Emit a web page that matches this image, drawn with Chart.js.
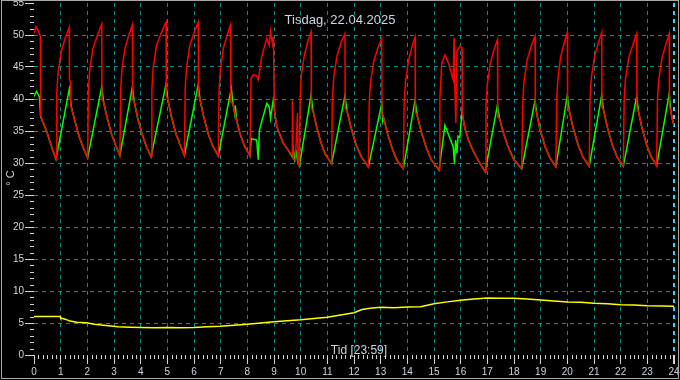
<!DOCTYPE html>
<html>
<head>
<meta charset="utf-8">
<script src="https://cdn.jsdelivr.net/npm/chart.js@4"></script>
<style>
  html, body { margin: 0; padding: 0; background: #000; }
  #wrap { position: relative; width: 680px; height: 380px; overflow: hidden; }
  #frame { position: absolute; left: 1px; top: 0; width: 676px; height: 377px; border: 1px solid #a8a8a8; pointer-events: none; }
  .lbl { position: absolute; font-family: "Liberation Sans", Arial, sans-serif; color: #ccd6e4; white-space: nowrap; }
  #title { left: 240px; top: 12px; width: 200px; text-align: center; font-size: 13px; line-height: 15px; }
  #xname { left: 259px; top: 343px; width: 200px; text-align: center; font-size: 12px; line-height: 14px; }
  #yname { left: 10px; top: 178px; font-size: 11px; line-height: 12px; transform: translate(-50%, -50%) rotate(-90deg); }
</style>
</head>
<body>
<div id="wrap">
  <canvas id="chart" width="680" height="380"></canvas>
  <div id="title" class="lbl">Tisdag, 22.04.2025</div>
  <div id="xname" class="lbl">Tid [23:59]</div>
  <div id="yname" class="lbl">° C</div>
  <div id="frame"></div>
</div>
<script>
// hours of the day
var redTime = [
  0, 0.07, 0.15, 0.24, 0.25, 0.35, 0.48, 0.6, 0.72,
  0.825, 0.855, 0.905, 1.025, 1.175, 1.325, 1.33, 1.37, 1.38, 1.525, 1.695, 1.855,
  2.01, 2.04, 2.09, 2.21, 2.37, 2.54, 2.55, 2.61, 2.74, 2.91, 3.07,
  3.22, 3.25, 3.30, 3.41, 3.55, 3.69, 3.70, 3.76, 3.89, 4.06, 4.22,
  4.39, 4.42, 4.47, 4.59, 4.77, 4.95, 4.96, 5.02, 5.15, 5.32, 5.48,
  5.64, 5.67, 5.72, 5.84, 6.00, 6.16, 6.17, 6.23, 6.36, 6.53, 6.70,
  6.91, 6.94, 6.99, 7.10, 7.24, 7.37, 7.38, 7.46, 7.60, 7.74, 7.90,
  8.10, 8.14, 8.22, 8.35, 8.41, 8.54, 8.73, 8.82, 8.87, 8.94, 8.98, 9.01, 9.10, 9.35, 9.55, 9.68, 9.69, 9.72, 9.80, 9.88, 9.90,
  9.95, 9.98, 10.02, 10.14, 10.27, 10.39, 10.40, 10.46, 10.59, 10.76, 10.92,
  11.16, 11.19, 11.24, 11.36, 11.51, 11.66, 11.67, 11.74, 11.89, 12.08, 12.27,
  12.54, 12.57, 12.62, 12.74, 12.89, 13.04, 13.05, 13.11, 13.25, 13.43, 13.60,
  13.85, 13.88, 13.93, 14.04, 14.17, 14.29, 14.30, 14.37, 14.52, 14.72, 14.91,
  15.19, 15.22, 15.29, 15.41, 15.56, 15.72, 15.75, 15.77, 15.82, 15.86, 15.98, 16.05, 16.06, 16.15, 16.29, 16.48, 16.66,
  16.92, 16.95, 17.00, 17.11, 17.25, 17.38, 17.39, 17.46, 17.61, 17.81, 18.00,
  18.29, 18.33, 18.37, 18.49, 18.66, 18.79, 18.80, 18.85, 18.98, 19.17, 19.35,
  19.57, 19.60, 19.65, 19.75, 19.88, 20.00, 20.01, 20.07, 20.21, 20.40, 20.58,
  20.82, 20.85, 20.90, 21.02, 21.16, 21.29, 21.30, 21.36, 21.50, 21.68, 21.86,
  22.10, 22.13, 22.18, 22.30, 22.46, 22.60, 22.61, 22.67, 22.80, 22.97, 23.13,
  23.35, 23.38, 23.43, 23.55, 23.69, 23.82, 23.83, 23.89, 24.00
];
var redTemp = [
  50.3, 51.3, 50.8, 49.8, 37.4, 36.2, 34.9, 33.3, 31.8,
  30.6, 40.9, 44.2, 47.5, 49.6, 51.2, 43.0, 42.6, 38.9, 36.7, 34.1, 32.3,
  30.8, 41.2, 44.6, 47.9, 49.9, 51.7, 40.0, 39.5, 37.1, 34.5, 32.7,
  31.2, 41.4, 44.7, 47.9, 49.9, 51.6, 40.0, 39.5, 37.0, 34.4, 32.5,
  31.0, 41.5, 44.9, 48.3, 50.3, 52.0, 40.5, 39.9, 37.3, 34.6, 32.8,
  31.2, 41.6, 44.9, 48.3, 50.3, 52.0, 40.5, 39.8, 37.3, 34.6, 32.7,
  31.1, 41.3, 44.6, 47.9, 49.9, 51.6, 39.5, 39.3, 36.6, 34.4, 32.6,
  31.1, 43.2, 43.8, 43.6, 43.0, 46.6, 49.5, 48.4, 50.6, 48.6, 49.7, 38.5, 35.7, 33.1, 31.9, 31.2, 39.8, 30.6, 30.4, 37.8, 29.8,
  29.5, 40.0, 43.6, 46.9, 49.0, 50.5, 38.5, 38.2, 35.8, 33.2, 31.4,
  29.9, 40.0, 43.4, 46.7, 48.8, 50.2, 38.5, 38.1, 35.5, 32.8, 31.0,
  29.4, 39.4, 42.7, 45.9, 47.9, 49.5, 37.5, 37.1, 34.7, 32.3, 30.5,
  29.1, 39.4, 42.6, 45.9, 48.1, 49.7, 38.0, 37.4, 34.9, 32.3, 30.4,
  28.9, 40.0, 45.6, 46.9, 45.4, 43.0, 49.5, 43.5, 36.2, 47.5, 48.3, 48.0, 37.8, 35.6, 33.6, 31.8, 30.4,
  28.6, 39.0, 42.3, 45.6, 47.7, 49.3, 37.2, 36.9, 34.6, 32.2, 30.5,
  29.1, 39.4, 42.5, 46.1, 48.4, 49.8, 38.3, 37.8, 35.2, 32.5, 30.8,
  29.4, 39.9, 43.3, 46.6, 48.7, 50.4, 38.8, 38.2, 35.6, 32.9, 31.0,
  29.5, 40.0, 43.3, 46.6, 48.7, 50.4, 38.8, 38.2, 35.6, 32.9, 31.0,
  29.5, 39.9, 43.1, 46.4, 48.5, 50.2, 38.6, 38.0, 35.5, 32.9, 31.1,
  29.6, 39.9, 43.1, 46.4, 48.5, 50.2, 39.0, 37.8, 35.8
];

var greenTime = [
  0, 0.1, 0.2, 0.25, 0.35, 0.48, 0.6, 0.72,
  0.825, 1.325, 1.40, 1.525, 1.695, 1.855,
  2.01, 2.54, 2.61, 2.74, 2.91, 3.07,
  3.22, 3.69, 3.76, 3.89, 4.06, 4.22,
  4.39, 4.95, 5.02, 5.15, 5.32, 5.48,
  5.64, 6.16, 6.23, 6.36, 6.53, 6.70,
  6.91, 7.40, 7.46, 7.53, 7.55, 7.60, 7.74, 7.90,
  8.10, 8.14, 8.35, 8.41, 8.45, 8.54, 8.73, 8.82, 8.87, 8.97, 9.01, 9.10, 9.35, 9.55, 9.68, 9.72, 9.78, 9.84, 9.90,
  9.95, 10.39, 10.46, 10.59, 10.76, 10.92,
  11.16, 11.66, 11.74, 11.89, 12.08, 12.27,
  12.54, 13.04, 13.08, 13.11, 13.25, 13.43, 13.60,
  13.85, 14.29, 14.37, 14.52, 14.72, 14.91,
  15.19, 15.41, 15.72, 15.77, 15.81, 15.86, 15.90, 15.97, 16.05, 16.15, 16.29, 16.48, 16.66,
  16.92, 17.38, 17.46, 17.61, 17.81, 18.00,
  18.29, 18.79, 18.85, 18.98, 19.17, 19.35,
  19.57, 20.00, 20.07, 20.21, 20.40, 20.58,
  20.82, 21.29, 21.36, 21.50, 21.68, 21.86,
  22.10, 22.60, 22.67, 22.80, 22.97, 23.13,
  23.35, 23.82, 23.89, 24.00
];
var greenTemp = [
  40.4, 41.2, 40.4, 37.2, 36.2, 34.9, 33.3, 31.8,
  30.6, 41.6, 38.8, 36.7, 34.1, 32.3,
  30.8, 41.9, 39.5, 37.1, 34.5, 32.7,
  31.2, 41.9, 39.5, 37.0, 34.4, 32.5,
  31.0, 42.3, 39.9, 37.3, 34.6, 32.8,
  31.2, 42.3, 39.8, 37.3, 34.6, 32.7,
  31.1, 41.7, 39.3, 37.6, 39.0, 36.6, 34.4, 32.6,
  31.1, 33.8, 33.6, 30.5, 35.0, 36.5, 39.3, 38.8, 37.0, 39.8, 38.5, 35.7, 33.1, 31.9, 31.0, 32.2, 30.5, 31.6, 29.9,
  29.5, 40.6, 38.2, 35.8, 33.2, 31.4,
  29.9, 40.5, 38.1, 35.5, 32.8, 31.0,
  29.4, 39.3, 36.6, 37.1, 34.7, 32.3, 30.5,
  29.1, 39.8, 37.4, 34.9, 32.3, 30.4,
  28.9, 35.9, 32.5, 29.8, 33.6, 31.5, 34.2, 34.0, 38.0, 35.6, 33.6, 31.8, 30.4,
  28.6, 39.1, 36.9, 34.6, 32.2, 30.5,
  29.1, 39.8, 37.8, 35.2, 32.5, 30.8,
  29.4, 40.6, 38.2, 35.6, 32.9, 31.0,
  29.5, 40.6, 38.2, 35.6, 32.9, 31.0,
  29.5, 40.4, 38.0, 35.5, 32.9, 31.1,
  29.6, 40.8, 37.8, 35.8
];

var yellowTime = [
  0, 0.98, 1.0, 1.17, 1.35, 1.6, 1.96, 2.27, 2.7, 3.15, 3.6, 4.0, 4.5, 5.0, 5.5, 6.0, 6.5, 7.0, 7.5, 8.0,
  8.5, 9.0, 9.5, 10.0, 10.5, 11.0, 11.5, 12.0, 12.3, 12.6, 13.0, 13.5, 14.0, 14.5, 15.0, 15.5, 16.0, 16.5,
  17.0, 17.5, 18.0, 18.5, 19.0, 19.5, 20.0, 20.5, 21.0, 21.5, 22.0, 22.5, 23.0, 23.5, 24.0
];
var yellowTemp = [
  6.0, 6.0, 5.8, 5.6, 5.3, 5.1, 5.05, 4.8, 4.6, 4.4, 4.35, 4.3, 4.25, 4.3, 4.25, 4.3, 4.4, 4.5, 4.65, 4.8,
  5.0, 5.2, 5.35, 5.5, 5.7, 5.9, 6.25, 6.6, 7.1, 7.3, 7.45, 7.4, 7.5, 7.55, 8.0, 8.3, 8.55, 8.75,
  8.9, 8.85, 8.85, 8.75, 8.6, 8.45, 8.3, 8.25, 8.1, 8.0, 7.85, 7.8, 7.7, 7.65, 7.6
];

var xTickStep = 1;      // hours
var yTickStep = 5;      // degrees
var xMinorPerTick = 6;  // 10 minute marks
var yMinorPerTick = 5;  // 1 degree marks

var gridColor = '#088c8c';
var nowColor = '#30d8ff';
var tickMarkColor = '#d4d4d4';
var labelColor = '#ccd6e4';

function pairs(t, v) {
  return t.map(function (x, i) { return { x: x, y: v[i] }; });
}

var minorTicks = {
  id: 'minorTicks',
  afterDraw: function (chart) {
    var ctx = chart.ctx, area = chart.chartArea;
    var xs = chart.scales.x, ys = chart.scales.y;
    ctx.save();
    ctx.strokeStyle = tickMarkColor;
    ctx.lineWidth = 1;
    ctx.beginPath();
    var n = (ys.max - ys.min) / yTickStep * yMinorPerTick;
    for (var i = 1; i < n; i++) {
      if (i % yMinorPerTick === 0) continue;
      var py = Math.round(ys.getPixelForValue(ys.min + i * yTickStep / yMinorPerTick)) + 0.5;
      ctx.moveTo(area.left - 4, py);
      ctx.lineTo(area.left, py);
    }
    var m = (xs.max - xs.min) / xTickStep * xMinorPerTick;
    for (var j = 1; j < m; j++) {
      if (j % xMinorPerTick === 0) continue;
      var px = Math.round(xs.getPixelForValue(xs.min + j * xTickStep / xMinorPerTick)) + 0.5;
      ctx.moveTo(px, area.bottom);
      ctx.lineTo(px, area.bottom + 4);
    }
    ctx.stroke();
    ctx.restore();
  }
};

new Chart("chart", {
  type: "line",
  data: {
    datasets: [
      { data: pairs(redTime, redTemp), borderColor: "#ff0000", borderWidth: 1.5 },
      { data: pairs(greenTime, greenTemp), borderColor: "#00ff00", borderWidth: 1.5 },
      { data: pairs(yellowTime, yellowTemp), borderColor: "#ffff00", borderWidth: 1.5 }
    ]
  },
  options: {
    responsive: false,
    animation: false,
    events: [],
    layout: { padding: { top: 3, right: 6, left: 0, bottom: 0 } },
    elements: { point: { radius: 0 }, line: { tension: 0 } },
    plugins: { legend: { display: false }, tooltip: { enabled: false } },
    scales: {
      x: {
        type: "linear",
        min: 0,
        max: 24,
        ticks: {
          stepSize: xTickStep,
          autoSkip: false,
          maxRotation: 0,
          padding: 2,
          color: labelColor,
          font: { family: "'Liberation Sans', Arial, sans-serif", size: 10 }
        },
        grid: {
          color: function (c) {
            if (c.tick.value === 0) return "rgba(0,0,0,0)";
            return c.tick.value === 24 ? nowColor : gridColor;
          },
          lineWidth: function (c) { return c.tick.value === 24 ? 2 : 1; },
          tickColor: tickMarkColor,
          tickLength: 9
        },
        border: { display: false, dash: [4, 4] },
        afterFit: function (s) {
          s.height = 25;
          s.paddingLeft = 0;
          s.paddingRight = 0;
        }
      },
      y: {
        min: 0,
        max: 55,
        ticks: {
          stepSize: yTickStep,
          padding: 1,
          color: labelColor,
          font: { family: "'Liberation Sans', Arial, sans-serif", size: 10 }
        },
        grid: {
          color: function (c) {
            var v = c.tick.value;
            return (v === 0 || v === 55) ? "rgba(0,0,0,0)" : gridColor;
          },
          tickColor: tickMarkColor,
          tickLength: 9
        },
        border: { display: false, dash: [4, 4] },
        afterFit: function (s) {
          s.width = 34;
          s.paddingTop = 0;
          s.paddingBottom = 0;
        }
      }
    }
  },
  plugins: [minorTicks]
});
</script>
</body>
</html>
